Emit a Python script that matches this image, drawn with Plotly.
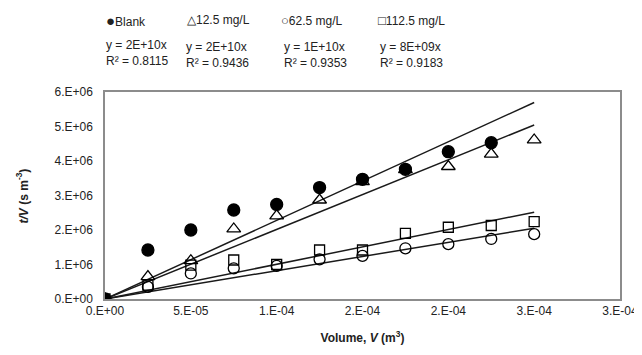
import numpy as np
import plotly.graph_objects as go

# ---- data ----
volume = [0, 2.5e-5, 5e-5, 7.5e-5, 1.0e-4, 1.25e-4, 1.5e-4, 1.75e-4, 2.0e-4, 2.25e-4, 2.5e-4]
blank = [0, 1.42e6, 2.00e6, 2.58e6, 2.74e6, 3.23e6, 3.47e6, 3.76e6, 4.27e6, 4.53e6]
c12_5 = [0, 0.65e6, 1.11e6, 2.03e6, 2.41e6, 2.87e6, 3.40e6, 3.75e6, 3.84e6, 4.20e6, 4.61e6]
c62_5 = [0, 0.35e6, 0.74e6, 0.89e6, 0.96e6, 1.15e6, 1.25e6, 1.47e6, 1.59e6, 1.74e6, 1.88e6]
c112_5 = [0, 0.40e6, 0.98e6, 1.13e6, 1.00e6, 1.42e6, 1.42e6, 1.90e6, 2.08e6, 2.13e6, 2.24e6]

x_tickvals = [0, 5e-5, 1e-4, 1.5e-4, 2e-4, 2.5e-4, 3e-4]
x_ticktext = ["0.E+00", "5.E-05", "1.E-04", "2.E-04", "2.E-04", "3.E-04", "3.E-04"]
y_tickvals = [0, 1e6, 2e6, 3e6, 4e6, 5e6, 6e6]
y_ticktext = ["0.E+00", "1.E+06", "2.E+06", "3.E+06", "4.E+06", "5.E+06", "6.E+06"]

legend_glyphs = ["●", "△", "○", "□"]
legend_labels = ["Blank", "12.5 mg/L", "62.5 mg/L", "112.5 mg/L"]
equations = ["y = 2E+10x", "y = 2E+10x", "y = 1E+10x", "y = 8E+09x"]
r2_texts = ["R² = 0.8115", "R² = 0.9436", "R² = 0.9353", "R² = 0.9183"]

series = [
    (blank, "circle", "black"),
    (c12_5, "triangle-up-open", "black"),
    (c62_5, "circle-open", "black"),
    (c112_5, "square-open", "black"),
]
sizes = [12, 12, 11, 10]
glyph_sizes = [15, 12, 13, 13]

fig = go.Figure()
xmax = max(volume)
for (ys, sym, col), sz in zip(series, sizes):
    xs = np.array(volume[:len(ys)])
    ya = np.array(ys)
    slope = float((xs * ya).sum() / (xs * xs).sum())
    fig.add_trace(go.Scatter(x=[0, xmax], y=[0, slope * xmax], mode="lines",
                             line=dict(color="#1a1a1a", width=1.5), showlegend=False,
                             hoverinfo="skip"))
for (ys, sym, col), sz in zip(series, sizes):
    fig.add_trace(go.Scatter(x=volume[:len(ys)], y=ys, mode="markers",
                             marker=dict(symbol=sym, size=sz, color=col,
                                         line=dict(color="black", width=1.3)),
                             showlegend=False))

OFF = 8  # page body margin
W, H = 642, 355
L, R, T, B = 105 - OFF, 27, 92 - OFF, 64
pw, ph = W - L - R, H - T - B

def px(xp):
    return (xp - OFF - L) / pw

def py(yp):
    return (H - B - (yp - OFF)) / ph

font = dict(family="Liberation Sans, Arial, sans-serif", size=12, color="#222222")
ann = []
leg_x = [104, 185, 280, 378]
eq_x = [104, 184, 283, 380]
for i in range(4):
    ann.append(dict(x=px(leg_x[i]), y=py(20), xref="paper", yref="paper", xanchor="left",
                    yanchor="middle",
                    text='<span style="font-size:%dpx">%s</span>%s' % (glyph_sizes[i], legend_glyphs[i], legend_labels[i]),
                    showarrow=False, font=font))
    ann.append(dict(x=px(eq_x[i]), y=py(45 + (2 if i else 0)), xref="paper", yref="paper",
                    xanchor="left", yanchor="middle", text=equations[i], showarrow=False, font=font))
    ann.append(dict(x=px(eq_x[i]), y=py(61 + (2 if i else 0)), xref="paper", yref="paper",
                    xanchor="left", yanchor="middle", text=r2_texts[i], showarrow=False, font=font))

# y-axis title placed as a rotated annotation
ann.append(dict(x=px(22), y=py(196), xref="paper", yref="paper", xanchor="center",
                yanchor="middle", textangle=-90, showarrow=False,
                text="<b><i>t/V</i> (s m<sup>-3</sup>)</b>", font=font))

fig.update_layout(
    width=W, height=H,
    margin=dict(l=L, r=R, t=T, b=B),
    paper_bgcolor="white", plot_bgcolor="white",
    font=font,
    annotations=ann,
    xaxis=dict(range=[0, 3e-4], tickvals=x_tickvals, ticktext=x_ticktext,
               showgrid=False, zeroline=False, showline=True, linecolor="#8c8c8c",
               linewidth=1.5, mirror=True, ticks="",
               title=dict(text="<b>Volume, <i>V</i> (m<sup>3</sup>)</b>", standoff=16,
                          font=dict(size=12, color="#222222"))),
    yaxis=dict(range=[0, 6e6], tickvals=y_tickvals, ticktext=y_ticktext,
               showgrid=False, zeroline=False, showline=True, linecolor="#8c8c8c",
               linewidth=1.5, mirror=True, ticks="", ticklabelstandoff=8),
)

fig.write_html("out.html")
